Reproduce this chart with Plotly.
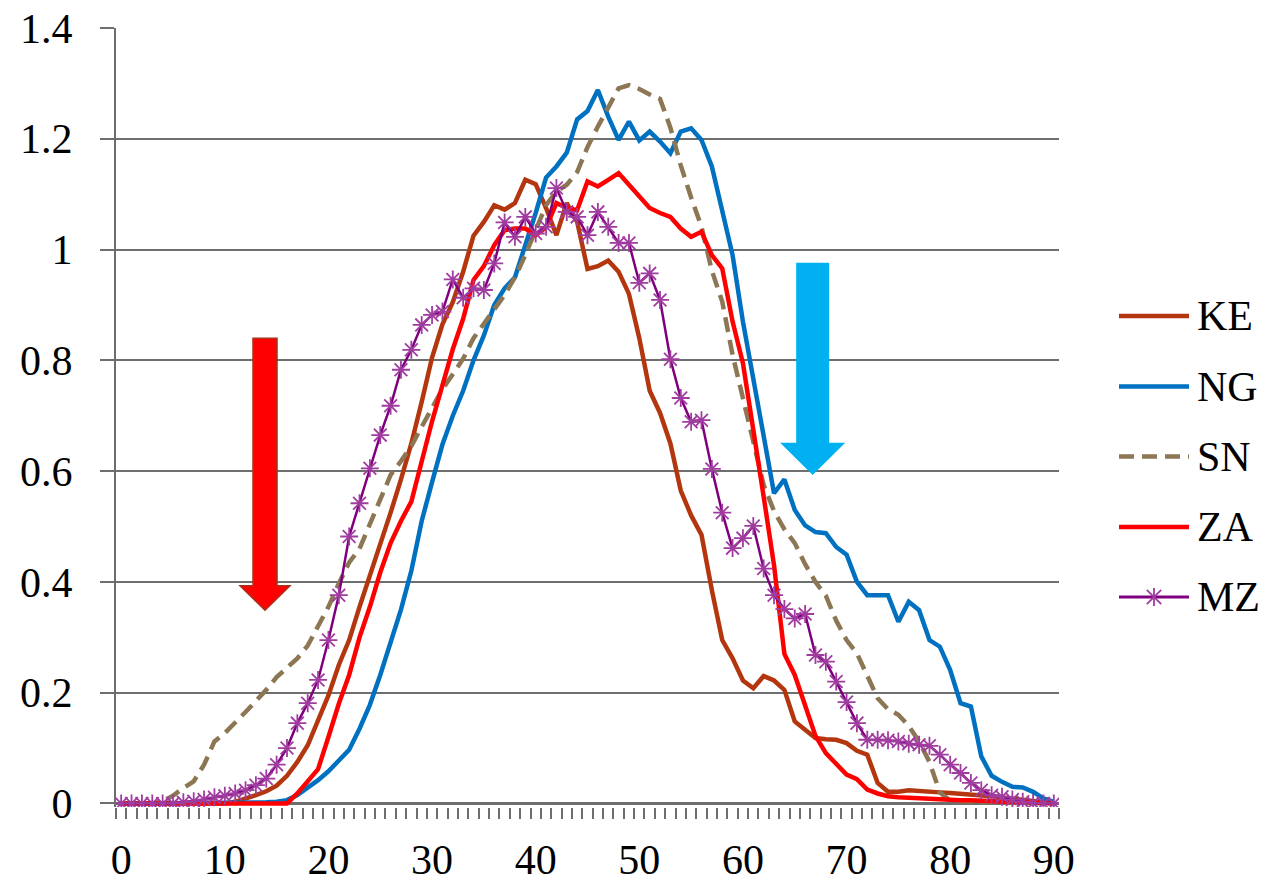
import plotly.graph_objects as go

# Age axis: one category per year of age, 0..90
ages = list(range(91))

series_names = ["KE", "NG", "SN", "ZA", "MZ"]

KE = [0, 0, 0, 0, 0, 0, 0, 0, 0, 0, 0, 0.003, 0.008, 0.015, 0.022, 0.032, 0.05, 0.075, 0.105, 0.15,
      0.195, 0.25, 0.295, 0.355, 0.41, 0.47, 0.525, 0.585, 0.65, 0.725, 0.805, 0.865, 0.905, 0.96, 1.025,
      1.05, 1.08, 1.072, 1.084, 1.126, 1.118, 1.075, 1.026, 1.084, 1.05, 0.965, 0.97, 0.98, 0.96, 0.92,
      0.84, 0.745, 0.705, 0.65, 0.565, 0.52, 0.485, 0.385, 0.295, 0.262, 0.222, 0.208, 0.23, 0.222, 0.205,
      0.148, 0.132, 0.118, 0.116, 0.115, 0.109, 0.095, 0.088, 0.037, 0.021, 0.021, 0.024, 0.022, 0.021,
      0.02, 0.019, 0.018, 0.016, 0.015, 0.013, 0.011, 0.009, 0.006, 0.004, 0.002, 0]

NG = [0, 0, 0, 0, 0, 0, 0, 0, 0, 0, 0, 0, 0, 0.001, 0.002, 0.003, 0.006, 0.015, 0.028, 0.042,
      0.058, 0.078, 0.097, 0.135, 0.178, 0.232, 0.29, 0.35, 0.42, 0.51, 0.58, 0.648, 0.7, 0.745, 0.8,
      0.845, 0.9, 0.93, 0.95, 1.005, 1.066, 1.13, 1.15, 1.175, 1.235, 1.25, 1.288, 1.24, 1.198, 1.231,
      1.197, 1.213, 1.195, 1.174, 1.213, 1.219, 1.198, 1.15, 1.07, 0.99, 0.87, 0.77, 0.67, 0.56, 0.585,
      0.53, 0.502, 0.49, 0.488, 0.463, 0.449, 0.4, 0.376, 0.376, 0.376, 0.328, 0.364, 0.349, 0.295,
      0.283, 0.241, 0.181, 0.175, 0.085, 0.05, 0.039, 0.03, 0.029, 0.021, 0.009, 0.003]

SN = [0, 0, 0, 0, 0.004, 0.014, 0.028, 0.04, 0.07, 0.112, 0.127, 0.145, 0.165, 0.185, 0.205, 0.228,
      0.244, 0.262, 0.285, 0.318, 0.355, 0.397, 0.435, 0.46, 0.503, 0.548, 0.593, 0.618, 0.645, 0.68,
      0.716, 0.748, 0.775, 0.803, 0.84, 0.866, 0.89, 0.918, 0.95, 0.99, 1.035, 1.08, 1.105, 1.117, 1.14,
      1.185, 1.222, 1.258, 1.291, 1.297, 1.29, 1.28, 1.272, 1.22, 1.152, 1.094, 1.041, 0.962, 0.906,
      0.81, 0.73, 0.65, 0.575, 0.528, 0.495, 0.47, 0.432, 0.4, 0.375, 0.33, 0.295, 0.271, 0.232, 0.19,
      0.17, 0.16, 0.14, 0.112, 0.075, 0.02, 0.005, 0.003, 0.003, 0.002, 0.002, 0.002, 0.001, 0.001,
      0.001, 0, 0]

ZA = [0, 0, 0, 0, 0, 0, 0, 0, 0, 0, 0, 0, 0, 0, 0, 0, 0, 0.018, 0.04, 0.062, 0.12, 0.18, 0.232, 0.3,
      0.355, 0.417, 0.47, 0.51, 0.545, 0.62, 0.69, 0.755, 0.82, 0.875, 0.945, 0.97, 1.008, 1.035, 1.038,
      1.038, 1.026, 1.04, 1.084, 1.075, 1.071, 1.123, 1.114, 1.126, 1.138, 1.117, 1.095, 1.075, 1.066,
      1.059, 1.038, 1.023, 1.032, 0.99, 0.966, 0.87, 0.795, 0.68, 0.554, 0.43, 0.27, 0.232, 0.178, 0.122,
      0.091, 0.07, 0.052, 0.044, 0.025, 0.018, 0.013, 0.011, 0.01, 0.009, 0.008, 0.008, 0.007, 0.006,
      0.006, 0.005, 0.004, 0.004, 0.003, 0.002, 0.002, 0.001, 0]

MZ = [0, 0, 0, 0, 0, 0, 0.002, 0.004, 0.007, 0.011, 0.014, 0.018, 0.024, 0.033, 0.045, 0.07, 0.1,
      0.145, 0.181, 0.223, 0.295, 0.376, 0.482, 0.542, 0.605, 0.665, 0.718, 0.783, 0.819, 0.864, 0.882,
      0.888, 0.946, 0.913, 0.93, 0.927, 0.975, 1.049, 1.023, 1.059, 1.029, 1.041, 1.111, 1.068, 1.059,
      1.026, 1.068, 1.041, 1.012, 1.012, 0.94, 0.957, 0.909, 0.802, 0.732, 0.689, 0.692, 0.604, 0.525,
      0.461, 0.479, 0.501, 0.424, 0.376, 0.351, 0.334, 0.342, 0.268, 0.256, 0.22, 0.183, 0.145, 0.115,
      0.115, 0.114, 0.112, 0.108, 0.106, 0.104, 0.088, 0.07, 0.055, 0.037, 0.024, 0.015, 0.012, 0.007,
      0.003, 0.001, 0, 0]

x_tick_labels = ["0", "10", "20", "30", "40", "50", "60", "70", "80", "90"]
y_tick_values = [0, 0.2, 0.4, 0.6, 0.8, 1.0, 1.2, 1.4]
y_tick_labels = ["0", "0.2", "0.4", "0.6", "0.8", "1", "1.2", "1.4"]

FONT = "Liberation Serif, Times New Roman, serif"
GRID = "#6e6e6e"
MZ_MARK = "#a03ca0"

styles = {
    "KE": dict(color="#b3360e", width=4.5, dash="solid"),
    "NG": dict(color="#0070c0", width=4.5, dash="solid"),
    "SN": dict(color="#8c7654", width=4.5, dash="15px,8px"),
    "ZA": dict(color="#ff0000", width=4.5, dash="solid"),
    "MZ": dict(color="#7f007f", width=2.5, dash="solid"),
}
values = {"KE": KE, "NG": NG, "SN": SN, "ZA": ZA, "MZ": MZ}

fig = go.Figure()
for name in series_names:
    st = styles[name]
    kw = dict(mode="lines")
    if name == "MZ":
        kw = dict(mode="lines+markers",
                  marker=dict(symbol="asterisk-open", size=15, color=MZ_MARK,
                              line=dict(width=1.8, color=MZ_MARK)))
    fig.add_trace(go.Scatter(x=ages, y=values[name], name=name, showlegend=False,
                             line=dict(color=st["color"], width=st["width"], dash=st["dash"]),
                             **kw))

# Plot-area geometry (pixels) used to place the hand-drawn legend
W, H = 1272, 889
ML, MR, MT, MB = 116, 213, 28, 82
PW, PH = W - ML - MR, H - MT - MB


def px_x(p):
    return (p - ML) / PW


def px_y(p):
    return (H - MB - p) / PH


shapes = []
annotations = []
legend_rows = [316, 386.5, 456.5, 527, 597]
for name, yrow in zip(series_names, legend_rows):
    st = styles[name]
    shapes.append(dict(type="line", xref="paper", yref="paper",
                       x0=px_x(1119), x1=px_x(1189), y0=px_y(yrow), y1=px_y(yrow),
                       line=dict(color=st["color"], width=st["width"] if name != "MZ" else 3,
                                 dash=st["dash"])))
    annotations.append(dict(text=name, xref="paper", yref="paper", x=px_x(1195), y=px_y(yrow),
                            xanchor="left", yanchor="middle", showarrow=False,
                            font=dict(family=FONT, size=42, color="black")))
    if name == "MZ":
        cxp, cyp, r = 1154, yrow, 9
        for dx, dy in [(0, r), (r * 0.8, r * 0.8), (r * 0.8, -r * 0.8)]:
            shapes.append(dict(type="line", xref="paper", yref="paper",
                               x0=px_x(cxp - dx), x1=px_x(cxp + dx),
                               y0=px_y(cyp - dy), y1=px_y(cyp + dy),
                               line=dict(color=MZ_MARK, width=1.8)))


def arrow_path(cx, shaft_hw, head_hw, top, base, tip):
    return (f"M {cx - shaft_hw},{top} L {cx + shaft_hw},{top} L {cx + shaft_hw},{base} "
            f"L {cx + head_hw},{base} L {cx},{tip} L {cx - head_hw},{base} "
            f"L {cx - shaft_hw},{base} Z")


# Downward arrows marking the two sides of the age profile
shapes.append(dict(type="path", xref="x", yref="y", layer="above",
                   path=arrow_path(13.88, 1.16, 2.41, 0.84, 0.393, 0.349),
                   fillcolor="#ff0000", line=dict(color="#a8321c", width=1.5)))
shapes.append(dict(type="path", xref="x", yref="y", layer="above",
                   path=arrow_path(66.73, 1.59, 3.14, 0.976, 0.651, 0.593),
                   fillcolor="#00b0f0", line=dict(color="#00b0f0", width=0)))

fig.update_layout(
    width=W, height=H,
    margin=dict(l=ML, r=MR, t=MT, b=MB, pad=0, autoexpand=False),
    paper_bgcolor="white", plot_bgcolor="white",
    font=dict(family=FONT, size=42, color="black"),
    shapes=shapes, annotations=annotations,
    showlegend=False,
)
fig.update_xaxes(
    range=[-0.5, 90.5], tickvals=list(range(0, 91, 10)), ticktext=x_tick_labels,
    ticks="", showgrid=False, zeroline=False, showline=False, automargin=False,
    tickfont=dict(family=FONT, size=42), ticklabelstandoff=24,
    minor=dict(ticks="outside", tick0=-0.5, dtick=1, ticklen=11, tickwidth=2,
               tickcolor=GRID, showgrid=False),
)
fig.update_yaxes(
    range=[-0.0064, 1.4], tickvals=y_tick_values, ticktext=y_tick_labels,
    ticks="outside", ticklen=14, tickwidth=2, tickcolor=GRID,
    showgrid=True, gridcolor=GRID, gridwidth=2,
    zeroline=True, zerolinecolor=GRID, zerolinewidth=3,
    showline=True, linecolor=GRID, linewidth=2, automargin=False,
    tickfont=dict(family=FONT, size=42), ticklabelstandoff=19,
)

fig.write_html("out.html")
